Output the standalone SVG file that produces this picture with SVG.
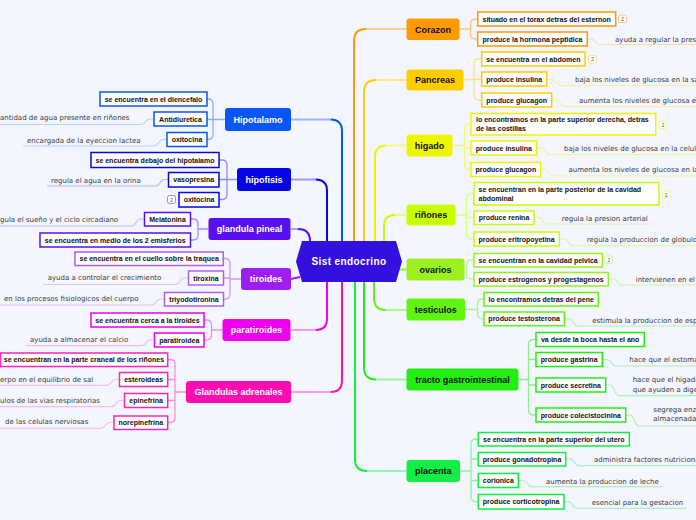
<svg xmlns="http://www.w3.org/2000/svg" width="696" height="520" viewBox="0 0 696 520">
<style>
.c{font-family:"Liberation Sans",Arial,sans-serif;font-size:7px;font-weight:bold;fill:#111;text-anchor:middle}
.cs{font-family:"Liberation Sans",Arial,sans-serif;font-size:7px;font-weight:bold;fill:#111}
.d{font-family:"DejaVu Sans","Liberation Sans",sans-serif;font-size:7px;fill:#3a3a3a}
.p{font-family:"Liberation Sans",Arial,sans-serif;font-size:9px;font-weight:bold;text-anchor:middle}
.w{fill:#fff}
.k{fill:#111}
.b{fill:#fff;stroke-width:1.5}
.l{fill:none;stroke-width:1.3}
.u{fill:none;stroke-width:1.2;opacity:.75}
.m{fill:none;stroke-width:2}
.bd{fill:#fff;stroke-width:1}
.bt{font-family:"Liberation Sans",Arial,sans-serif;font-size:5.5px;fill:#555;text-anchor:middle}
</style>
<rect width="696" height="520" fill="#f3f6fe"/>
<g id="connectors">
<path class="m" stroke="#0a55f5" d="M342 241V131Q342 119.5 330.5 119.5"/><path class="m" stroke="#9ab8fb" d="M330.5 119.5H291"/>
<path class="m" stroke="#0505e6" d="M327 241V191Q327 179.5 315.5 179.5"/><path class="m" stroke="#9a9af5" d="M315.5 179.5H291"/>
<path class="m" stroke="#5a0ff0" d="M310 241Q310 229 298 229"/><path class="m" stroke="#b39af7" d="M298 229H291"/>
<path class="m" stroke="#9c1ef0" d="M291 279L300 277"/>
<path class="m" stroke="#ee00ee" d="M327 282V318.5Q327 330 315.5 330"/><path class="m" stroke="#f59af5" d="M315.5 330H291"/>
<path class="m" stroke="#ff0db0" d="M342 282V380.5Q342 392 330.5 392"/><path class="m" stroke="#ffa0dd" d="M330.5 392H291"/>
<path class="m" stroke="#ff9900" d="M354 241V41Q354 29 366 29"/><path class="m" stroke="#ffcc88" d="M366 29H406.5"/>
<path class="m" stroke="#ffcc00" d="M364 241V92Q364 80 376 80"/><path class="m" stroke="#ffe480" d="M376 80H406.5"/>
<path class="m" stroke="#eef500" d="M375 241V157Q375 145.5 386.5 145.5"/><path class="m" stroke="#f4fa8a" d="M386.5 145.5H406.5"/>
<path class="m" stroke="#c8ff00" d="M384 241V226Q384 215 395 215"/><path class="m" stroke="#e0ff88" d="M395 215H406.5"/>
<path class="m" stroke="#9cf020" d="M399 269.5H406.5"/>
<path class="m" stroke="#60f510" d="M374 282V298Q374 310 386 310"/><path class="m" stroke="#b0fa8a" d="M386 310H406.5"/>
<path class="m" stroke="#22ee11" d="M364 282V367.5Q364 379.5 376 379.5"/><path class="m" stroke="#a0f59a" d="M376 379.5H406.5"/>
<path class="m" stroke="#11ee44" d="M355 282V459Q355 471 367 471"/><path class="m" stroke="#96f5b0" d="M367 471H406.5"/>
<path class="l" stroke="#8eaefa" d="M207 99H208Q213 99 213 104V134.5Q213 139.5 208 139.5H207M207 119.5H225"/>
<path class="l" stroke="#8c8cf2" d="M219 160H222Q227 160 227 165V194.5Q227 199.5 222 199.5H219M219 179.5H237"/>
<path class="l" stroke="#a58cf5" d="M190.5 219H193Q198 219 198 224V235Q198 240 193 240H190.5M198 229H208.5"/>
<path class="l" stroke="#cf99f5" d="M223.3 258.5H225Q230 258.5 230 263.5V294Q230 299 225 299H223.3M223.3 278H230M230 279H241"/>
<path class="l" stroke="#f28cf2" d="M204 320H206.5Q211.5 320 211.5 325V335Q211.5 340 206.5 340H204M211.5 330H222.5"/>
<path class="l" stroke="#ff8ed6" d="M167.7 359.5H170Q175 359.5 175 364.5V417.5Q175 422.5 170 422.5H167.7M167.7 379.5H175M167.7 400.5H175M175 392H186"/>
<path class="l" stroke="#ffc57a" d="M477.7 19H475.5Q470.5 19 470.5 24V34Q470.5 39 475.5 39H477.7M459.5 29H470.5"/>
<path class="l" stroke="#ffe07a" d="M481.7 59H479Q474 59 474 64V95Q474 100 479 100H481.7M463.5 79.5H481.7"/>
<path class="l" stroke="#f2f77a" d="M471 124H469.5Q464.5 124 464.5 129V164.5Q464.5 169.5 469.5 169.5H471M471 148H464.5M452.5 145.5H464.5"/>
<path class="l" stroke="#ddff7a" d="M474 193.7H471.5Q466.5 193.7 466.5 198.7V234Q466.5 239 471.5 239H474M474 217.5H466.5M455.7 215H466.5"/>
<path class="l" stroke="#c2f590" d="M474 260H471.5Q466.5 260 466.5 265V274Q466.5 279 471.5 279H474M464.5 269.5H466.5"/>
<path class="l" stroke="#a5f590" d="M484 299H482.5Q477.5 299 477.5 304V313.8Q477.5 318.8 482.5 318.8H484M465 309.5H477.5"/>
<path class="l" stroke="#8ef08a" d="M536 339.5H533.5Q528.5 339.5 528.5 344.5V410Q528.5 415 533.5 415H536M536 359.5H528.5M536 385H528.5M518.5 379.5H528.5"/>
<path class="l" stroke="#8ef0a5" d="M478.3 439H476Q471 439 471 444V496.7Q471 501.7 476 501.7H478.3M478.3 459H471M478.3 480.5H471M460 471H471"/>
<path class="u" stroke="#a8c0f8" d="M154 119H150C145 119 146 124.5 141 124.5H-2M167 139.5H163C158 139.5 159 146 154 146H23"/>
<path class="u" stroke="#a4a4f2" d="M168.5 179.5H164.5C159.5 179.5 160.5 186 155.5 186H47"/>
<path class="u" stroke="#b8a4f5" d="M144.5 219H140.5C135.5 219 136.5 226 131.5 226H-2"/>
<path class="u" stroke="#d6b0f5" d="M188.5 278H184.5C179.5 278 180.5 284.5 175.5 284.5H43M164.5 299H160.5C155.5 299 156.5 305 151.5 305H-2"/>
<path class="u" stroke="#f2a8f2" d="M154.5 340H150.5C145.5 340 146.5 345.7 141.5 345.7H26"/>
<path class="u" stroke="#ffa8e0" d="M119.5 379.5H115.5C110.5 379.5 111.5 385.3 106.5 385.3H-2M124.5 400.5H120.5C115.5 400.5 116.5 406.7 111.5 406.7H-2M114 422.5H110C105 422.5 106 428.3 101 428.3H-2"/>
<path class="u" stroke="#ffcf90" d="M587.3 39H591C596 39 595 44.5 600 44.5H700"/>
<path class="u" stroke="#ffe490" d="M546.7 79.5H551C556 79.5 555 85.5 560 85.5H700M551.7 100H556C561 100 560 106.7 565 106.7H700"/>
<path class="u" stroke="#eef080" d="M536.7 148H541C546 148 545 154.5 550 154.5H700M540.7 169.5H545C550 169.5 549 176 554 176H700"/>
<path class="u" stroke="#d8f590" d="M534 217.5H538C543 217.5 542 224 547 224H652M559.3 239H564C569 239 568 245.7 573 245.7H700"/>
<path class="u" stroke="#c2f0a0" d="M608.3 279H613C618 279 617 285 622 285H700"/>
<path class="u" stroke="#a8f0a0" d="M564.3 318.8H569C574 318.8 573 326 578 326H700"/>
<path class="u" stroke="#9cec9c" d="M602.3 359.5H607C612 359.5 611 366 616 366H700M605.7 385H610C615 385 614 395.7 619 395.7H700M625.7 415H630C635 415 634 426 639 426H700"/>
<path class="u" stroke="#9cecb0" d="M565.7 459H570C575 459 574 465.7 579 465.7H700M518.3 480.5H523C528 480.5 527 486.7 532 486.7H662.3M564 501.7H568C573 501.7 572 508.3 577 508.3H686.7"/>
</g>
<g id="center"><polygon points="296,261.5 302,241 396,241 402,261.5 396,282 302,282" fill="#3410de"/><text class="p w" x="349" y="265" style="font-size:10px;letter-spacing:.4px">Sist endocrino</text></g>
<g id="hipotalamo"><rect x="225" y="108" width="66" height="23" rx="3" fill="#0a55f5"/><text class="p w" x="258" y="122.8">Hipotalamo</text></g>
<g id="hipofisis"><rect x="237" y="168" width="54" height="23" rx="3" fill="#0505e6"/><text class="p w" x="264" y="182.8">hipofisis</text></g>
<g id="pineal"><rect x="208.5" y="218" width="82" height="22" rx="3" fill="#5a0ff0"/><text class="p w" x="249.5" y="232.3">glandula pineal</text></g>
<g id="tiroides"><rect x="241" y="268" width="50" height="22" rx="3" fill="#9c1ef0"/><text class="p w" x="266" y="282.3">tiroides</text></g>
<g id="paratiroides"><rect x="222.5" y="319" width="68" height="22" rx="3" fill="#ee00ee"/><text class="p w" x="256.5" y="333.3">paratiroides</text></g>
<g id="adrenales"><rect x="186" y="381" width="105" height="22" rx="3" fill="#ff0db0"/><text class="p w" x="238.5" y="395.3">Glandulas adrenales</text></g>
<g id="corazon"><rect x="406.5" y="18.5" width="53" height="21.5" rx="3" fill="#ff9900"/><text class="p k" x="433" y="32.5">Corazon</text></g>
<g id="pancreas"><rect x="406.5" y="69.5" width="57" height="21" rx="3" fill="#ffcc00"/><text class="p k" x="435" y="83.3">Pancreas</text></g>
<g id="higado"><rect x="406.5" y="134.5" width="46" height="22" rx="3" fill="#eef500"/><text class="p k" x="429.5" y="148.8">higado</text></g>
<g id="rinones"><rect x="406.5" y="204.5" width="49" height="21" rx="3" fill="#c8ff00"/><text class="p k" x="431" y="218.3">riñones</text></g>
<g id="ovarios"><rect x="406.5" y="258.5" width="58" height="22" rx="3" fill="#9cf020"/><text class="p k" x="435.5" y="272.8">ovarios</text></g>
<g id="testiculos"><rect x="406.5" y="298.5" width="58.5" height="22" rx="3" fill="#60f510"/><text class="p k" x="435.8" y="312.8">testiculos</text></g>
<g id="tracto"><rect x="406.5" y="368.5" width="112" height="22" rx="3" fill="#22ee11"/><text class="p k" x="462.5" y="382.8">tracto gastrointestinal</text></g>
<g id="placenta"><rect x="406.5" y="460" width="53.5" height="22" rx="3" fill="#11ee44"/><text class="p k" x="433.3" y="474.3">placenta</text></g>
<g id="hipotalamo-1"><rect class="b" stroke="#0a55f5" x="100" y="92" width="107" height="14"/><text class="c" x="153.5" y="101.5">se encuentra en el diencefalo</text></g>
<g id="hipotalamo-2"><rect class="b" stroke="#0a55f5" x="154" y="112" width="53" height="14"/><text class="c" x="180.5" y="121.5">Antidiuretica</text><text class="d" x="0" y="120">antidad de agua presente en riñones</text></g>
<g id="hipotalamo-3"><rect class="b" stroke="#0a55f5" x="167" y="132.5" width="40" height="14"/><text class="c" x="187" y="142">oxitocina</text><text class="d" x="27" y="143">encargada de la eyeccion lactea</text></g>
<g id="hipofisis-1"><rect class="b" stroke="#0505e6" x="91" y="152.5" width="128" height="15"/><text class="c" x="155" y="162.5">se encuentra debajo del hipotalamo</text></g>
<g id="hipofisis-2"><rect class="b" stroke="#0505e6" x="168.5" y="172.5" width="50.5" height="14.5"/><text class="c" x="193.75" y="182.2">vasopresina</text><text class="d" x="51" y="182.5">regula el agua en la orina</text></g>
<g id="hipofisis-3"><rect class="b" stroke="#0505e6" x="179" y="192.5" width="40" height="14.5"/><text class="c" x="199" y="202.2">oxitocina</text><rect class="bd" stroke="#8c8cf2" x="167.5" y="195.5" width="8" height="8" rx="2"/><text class="bt" x="171.5" y="201.5">2</text></g>
<g id="pineal-1"><rect class="b" stroke="#5a0ff0" x="144.5" y="212.5" width="46" height="13.5"/><text class="c" x="167.5" y="221.7">Melatonina</text><text class="d" x="0" y="222">gula el sueño y el ciclo circadiano</text></g>
<g id="pineal-2"><rect class="b" stroke="#5a0ff0" x="40" y="233" width="150.5" height="14"/><text class="c" x="115.25" y="242.5">se encuentra en medio de los 2 emisferios</text></g>
<g id="tiroides-1"><rect class="b" stroke="#b45cf2" x="75" y="252" width="148.3" height="13.5"/><text class="c" x="149.15" y="261.2">se encuentra en el cuello sobre la traquea</text></g>
<g id="tiroides-2"><rect class="b" stroke="#b45cf2" x="188.5" y="271" width="35" height="14"/><text class="c" x="206" y="280.5">tiroxina</text><text class="d" x="47.7" y="280">ayuda a controlar el crecimiento</text></g>
<g id="tiroides-3"><rect class="b" stroke="#b45cf2" x="164.5" y="292.5" width="59" height="13.5"/><text class="c" x="194" y="301.7">triyodotironina</text><text class="d" x="4" y="301">en los procesos fisiologicos del cuerpo</text></g>
<g id="paratiroides-1"><rect class="b" stroke="#ee00ee" x="91" y="313" width="113" height="14"/><text class="c" x="147.5" y="322.5">se encuentra cerca a la tiroides</text></g>
<g id="paratiroides-2"><rect class="b" stroke="#ee00ee" x="154.5" y="333" width="49.5" height="14"/><text class="c" x="179.25" y="342.5">paratiroidea</text><text class="d" x="30" y="341.5">ayuda a almacenar el calcio</text></g>
<g id="adrenales-1"><rect class="b" stroke="#ff22bb" x="0.5" y="353" width="167.2" height="13.5"/><text class="c" x="84" y="362.2">se encuentran en la parte craneal de los riñones</text></g>
<g id="adrenales-2"><rect class="b" stroke="#ff22bb" x="119.5" y="372.5" width="48.2" height="14"/><text class="c" x="143.6" y="382">esteroideas</text><text class="d" x="0" y="381.5">erpo en el equilibrio de sal</text></g>
<g id="adrenales-3"><rect class="b" stroke="#ff22bb" x="124.5" y="393.5" width="43.2" height="14"/><text class="c" x="146.1" y="403">epinefrina</text><text class="d" x="0" y="403">ulos de las vias respiratorias</text></g>
<g id="adrenales-4"><rect class="b" stroke="#ff22bb" x="114" y="416" width="53.7" height="13.5"/><text class="c" x="140.85" y="425.2">norepinefrina</text><text class="d" x="5" y="424">de las celulas nerviosas</text></g>
<g id="corazon-1"><rect class="b" stroke="#ff9900" x="477.7" y="12" width="138" height="14"/><text class="c" x="546.7" y="21.5">situado en el torax detras del esternon</text><rect class="bd" stroke="#ffc57a" x="618.5" y="15" width="8" height="7.5" rx="2"/><text class="bt" x="622.5" y="20.8">2</text></g>
<g id="corazon-2"><rect class="b" stroke="#ff9900" x="477.7" y="32" width="109.6" height="14"/><text class="c" x="532.5" y="41.5">produce la hormona peptidica</text><text class="d" x="615" y="41.5">ayuda a regular la pres</text></g>
<g id="pancreas-1"><rect class="b" stroke="#ffcc00" x="481.7" y="52" width="103.3" height="14"/><text class="c" x="533.35" y="61.5">se encuentra en el abdomen</text><rect class="bd" stroke="#ffe07a" x="588.5" y="55.5" width="8" height="7.5" rx="2"/><text class="bt" x="592.5" y="61.3">2</text></g>
<g id="pancreas-2"><rect class="b" stroke="#ffcc00" x="481.7" y="72" width="65" height="14"/><text class="c" x="514.2" y="81.5">produce insulina</text><text class="d" x="575" y="82">baja los niveles de glucosa en la sa</text></g>
<g id="pancreas-3"><rect class="b" stroke="#ffcc00" x="481.7" y="93" width="70" height="14"/><text class="c" x="516.7" y="102.5">produce glucagon</text><text class="d" x="579" y="103">aumenta los niveles de glucosa e</text></g>
<g id="higado-1"><rect class="b" stroke="#eef500" x="471" y="113.5" width="184.7" height="21.5"/><text class="cs" x="476" y="121.5">lo encontramos en la parte superior derecha, detras<tspan x="476" y="130.8">de las costillas</tspan></text><rect class="bd" stroke="#f2f77a" x="659" y="121.5" width="8" height="7" rx="2"/><text class="bt" x="663" y="127">2</text></g>
<g id="higado-2"><rect class="b" stroke="#eef500" x="471" y="141" width="65.7" height="14"/><text class="c" x="503.85" y="150.5">produce insulina</text><text class="d" x="564" y="150.5">baja los niveles de glucosa en la celul</text></g>
<g id="higado-3"><rect class="b" stroke="#eef500" x="471" y="162.5" width="69.7" height="14"/><text class="c" x="505.85" y="172">produce glucagon</text><text class="d" x="568.5" y="172">aumenta los niveles de glucosa en la</text></g>
<g id="rinones-1"><rect class="b" stroke="#c8ff00" x="474" y="182.5" width="185" height="22.5"/><text class="cs" x="478.5" y="191.5">se encuentran en la parte posterior de la cavidad<tspan x="478.5" y="200.5">abdominal</tspan></text><rect class="bd" stroke="#ddff7a" x="662.5" y="191" width="7.5" height="7" rx="2"/><text class="bt" x="666.2" y="196.5">2</text></g>
<g id="rinones-2"><rect class="b" stroke="#c8ff00" x="474" y="211" width="60" height="13.5"/><text class="c" x="504" y="220.2">produce renina</text><text class="d" x="561.7" y="220.5">regula la presion arterial</text></g>
<g id="rinones-3"><rect class="b" stroke="#c8ff00" x="474" y="232" width="85.3" height="14"/><text class="c" x="516.65" y="241.5">produce eritropoyetina</text><text class="d" x="586.7" y="242">regula la produccion de globulo</text></g>
<g id="ovarios-1"><rect class="b" stroke="#9cf020" x="474" y="253.5" width="128.3" height="13.5"/><text class="c" x="538.15" y="262.7">se encuentran en la cavidad pelvica</text><rect class="bd" stroke="#c2f590" x="605" y="256" width="7.5" height="7.5" rx="2"/><text class="bt" x="608.8" y="261.8">2</text></g>
<g id="ovarios-2"><rect class="b" stroke="#9cf020" x="474" y="272.5" width="134.3" height="13.5"/><text class="c" x="541.15" y="281.7">produce estrogenos y progestagenos</text><text class="d" x="635.7" y="282">intervienen en el</text></g>
<g id="testiculos-1"><rect class="b" stroke="#60f510" x="484" y="292.5" width="114.3" height="13.5"/><text class="c" x="541.15" y="301.7">lo encontramos detras del pene</text></g>
<g id="testiculos-2"><rect class="b" stroke="#60f510" x="484" y="312" width="80.3" height="13.7"/><text class="c" x="524.15" y="321.3">produce testosterona</text><text class="d" x="592.3" y="322.5">estimula la produccion de esp</text></g>
<g id="tracto-1"><rect class="b" stroke="#22ee11" x="536" y="332.5" width="108.3" height="14"/><text class="c" x="590.15" y="342">va desde la boca hasta el ano</text></g>
<g id="tracto-2"><rect class="b" stroke="#22ee11" x="536" y="352.5" width="66.3" height="14"/><text class="c" x="569.15" y="362">produce gastrina</text><text class="d" x="629.3" y="362">hace que el estoma</text></g>
<g id="tracto-3"><rect class="b" stroke="#22ee11" x="536" y="378" width="69.7" height="14"/><text class="c" x="570.85" y="387.5">produce secretina</text><text class="d" x="632.7" y="382">hace que el higado<tspan x="632.7" y="391.5">que ayuden a dige</tspan></text></g>
<g id="tracto-4"><rect class="b" stroke="#22ee11" x="536" y="408" width="89.7" height="14"/><text class="c" x="580.85" y="417.5">produce colecistocinina</text><text class="d" x="653.3" y="412">segrega enz<tspan x="653.3" y="421">almacenada</tspan></text></g>
<g id="placenta-1"><rect class="b" stroke="#11ee44" x="478.3" y="432.5" width="151" height="13.5"/><text class="c" x="553.8" y="441.7">se encuentra en la parte superior del utero</text></g>
<g id="placenta-2"><rect class="b" stroke="#11ee44" x="478.3" y="452.5" width="87.4" height="13.5"/><text class="c" x="522" y="461.7">produce gonadotropina</text><text class="d" x="594" y="462">administra factores nutriciona</text></g>
<g id="placenta-3"><rect class="b" stroke="#11ee44" x="478.3" y="473.5" width="40" height="14"/><text class="c" x="498.3" y="483">corionica</text><text class="d" x="546" y="483.5">aumenta la produccion de leche</text></g>
<g id="placenta-4"><rect class="b" stroke="#11ee44" x="478.3" y="494.5" width="85.7" height="14.5"/><text class="c" x="521.15" y="504.2">produce corticotropina</text><text class="d" x="591.7" y="504.5">esencial para la gestacion</text></g>
</svg>
